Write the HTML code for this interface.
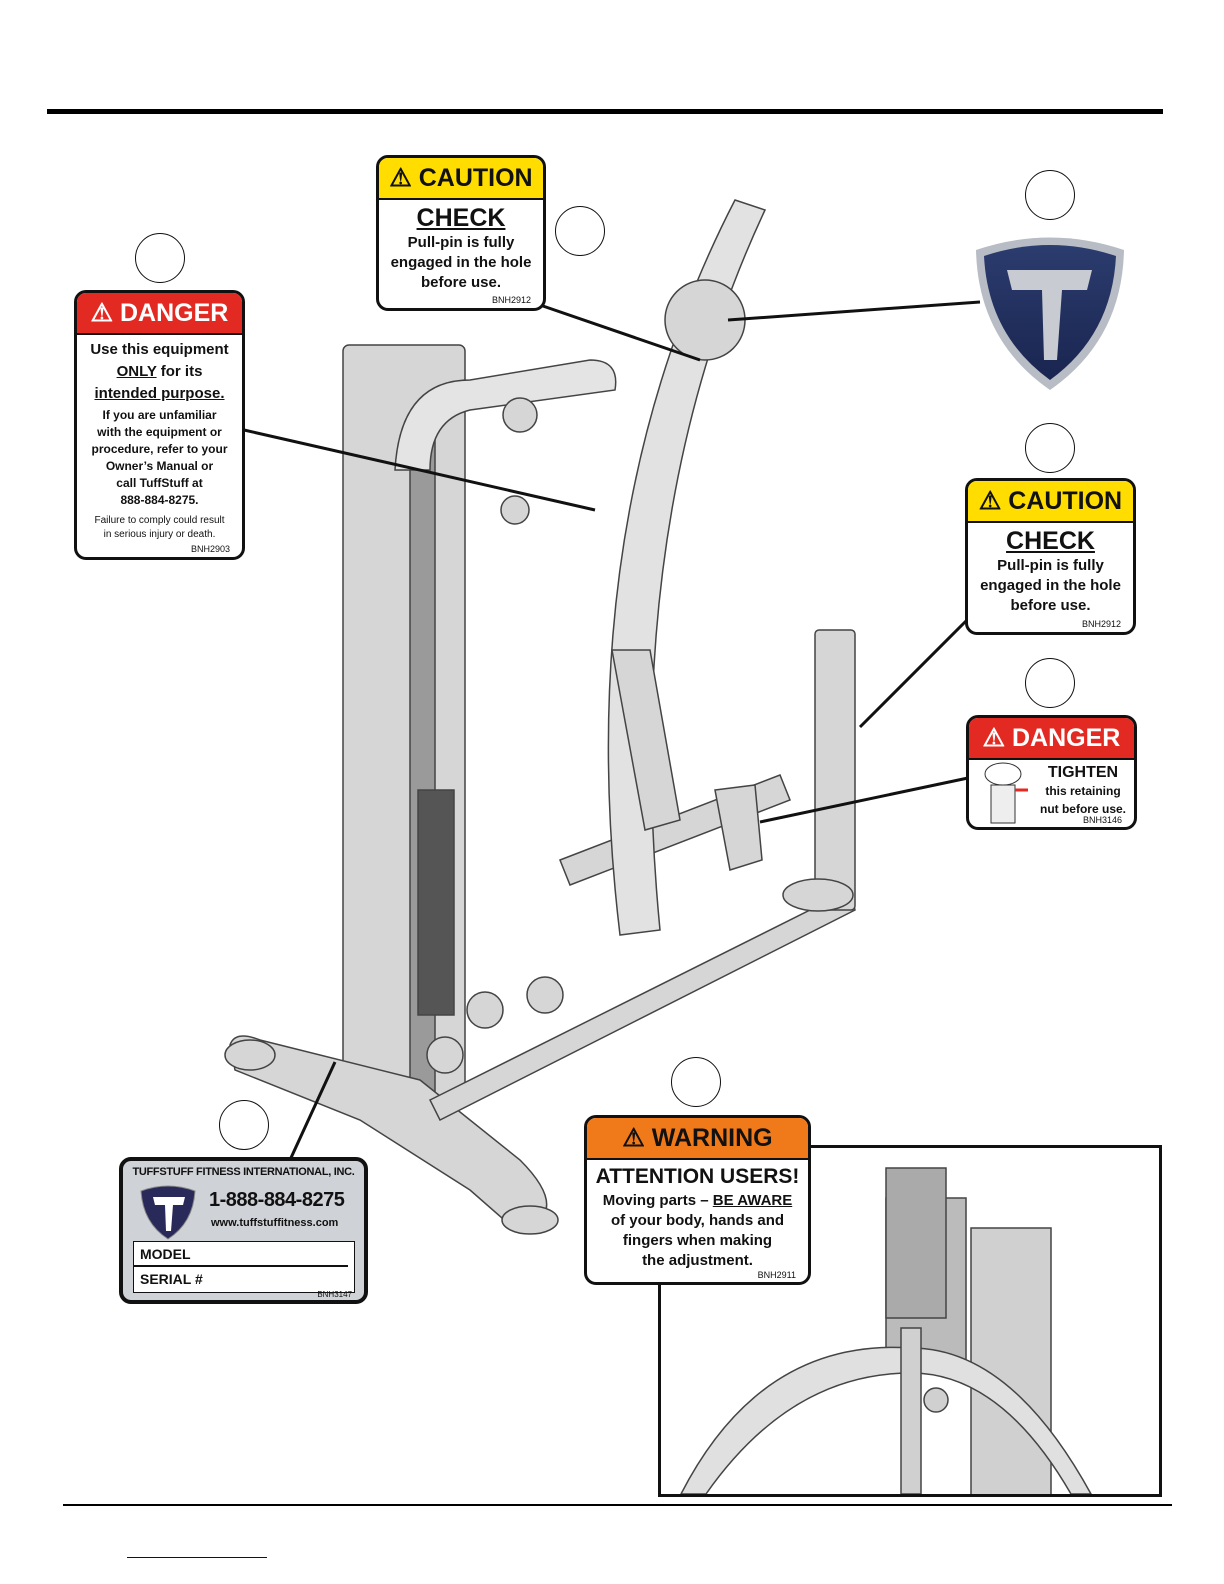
<!DOCTYPE html>
<html><head><meta charset="utf-8">
<style>
body{margin:0;background:#fff;}
#p{position:relative;width:1224px;height:1584px;overflow:hidden;font-family:"Liberation Sans",sans-serif;}
.ab{position:absolute;}
.lbl{position:absolute;border:3px solid #111;border-radius:12px;background:#fff;overflow:hidden;box-sizing:border-box;text-align:center;color:#111;}
.hd{font-weight:bold;font-size:25px;line-height:40px;border-bottom:2px solid #111;white-space:nowrap;}
.circ{position:absolute;width:50px;height:50px;border:1.5px solid #111;border-radius:50%;background:#fff;box-sizing:border-box;}
.b{font-weight:bold;}
.sm{font-size:9px;position:absolute;right:12px;}
.nw{white-space:nowrap;}
</style></head><body><div id="p">
<div class="ab" style="left:47px;top:109px;width:1116px;height:5px;background:#000"></div>
<div class="ab" style="left:63px;top:1504px;width:1109px;height:2px;background:#000"></div>
<div class="ab" style="left:127px;top:1557px;width:140px;height:1px;background:#00a"></div>

<svg class="ab" style="left:0;top:0" width="1224" height="1584">
<g fill="#d6d6d6" stroke="#444" stroke-width="1.5">
<rect x="343" y="345" width="122" height="760" rx="6"/>
<rect x="410" y="420" width="25" height="690" fill="#9a9a9a"/>
<rect x="418" y="790" width="36" height="225" fill="#555"/>
<path d="M230 1045 Q235 1030 260 1040 L420 1080 L520 1160 Q560 1200 540 1220 L510 1225 L470 1190 L360 1120 Q260 1080 235 1070 Z"/>
<ellipse cx="250" cy="1055" rx="25" ry="15"/>
<ellipse cx="530" cy="1220" rx="28" ry="14"/>
<path d="M430 1100 L850 890 L855 910 L440 1120 Z"/>
<path d="M560 860 L780 775 L790 800 L570 885 Z"/>
<path d="M735 200 L765 210 Q620 520 660 930 L620 935 Q570 520 735 200 Z" fill="#e2e2e2"/>
<path d="M395 470 Q400 380 470 380 L590 360 Q620 360 615 390 L470 410 Q430 420 430 470 Z" fill="#e4e4e4"/>
<circle cx="705" cy="320" r="40"/>
<rect x="815" y="630" width="40" height="280" rx="4"/>
<ellipse cx="818" cy="895" rx="35" ry="16"/>
<path d="M612 650 L650 650 L680 820 L645 830 Z"/>
<path d="M715 790 L755 785 L762 860 L730 870 Z"/>
<circle cx="485" cy="1010" r="18"/><circle cx="545" cy="995" r="18"/><circle cx="445" cy="1055" r="18"/><circle cx="520" cy="415" r="17"/><circle cx="515" cy="510" r="14"/>
</g>
<g stroke="#111" stroke-width="3" fill="none">
<line x1="244" y1="430" x2="595" y2="510"/>
<line x1="540" y1="305" x2="700" y2="360"/>
<line x1="980" y1="302" x2="728" y2="320"/>
<line x1="967" y1="620" x2="860" y2="727"/>
<line x1="968" y1="778" x2="760" y2="822"/>
<line x1="290" y1="1160" x2="335" y2="1062"/>
<line x1="805" y1="1280" x2="880" y2="1350"/>
</g>
</svg>

<div class="ab" style="left:658px;top:1145px;width:498px;height:346px;border:3px solid #111;overflow:hidden;background:#fff">
<svg width="498" height="346"><g fill="#d0d0d0" stroke="#444" stroke-width="1.5">
<rect x="310" y="80" width="80" height="270"/>
<rect x="225" y="50" width="80" height="170" fill="#bbb"/>
<path d="M20 346 Q100 190 250 200 Q350 200 430 346 L410 346 Q340 225 250 225 Q130 225 45 346 Z" fill="#e0e0e0"/>
<rect x="240" y="180" width="20" height="166"/>
<rect x="225" y="20" width="60" height="150" fill="#aaa"/>
<circle cx="275" cy="252" r="12"/>
</g></svg></div>

<div class="circ" style="left:135px;top:233px"></div>
<div class="circ" style="left:555px;top:206px"></div>
<div class="circ" style="left:1025px;top:170px"></div>
<div class="circ" style="left:1025px;top:423px"></div>
<div class="circ" style="left:1025px;top:658px"></div>
<div class="circ" style="left:219px;top:1100px"></div>
<div class="circ" style="left:671px;top:1057px"></div>

<div class="lbl" style="left:376px;top:155px;width:170px;height:156px">
<div class="hd" style="background:#ffdd00">⚠ CAUTION</div>
<div class="b" style="font-size:25px;margin-top:4px;text-decoration:underline">CHECK</div>
<div class="b nw" style="font-size:15px;line-height:20px">Pull-pin is fully<br>engaged in the hole<br>before use.</div>
<div class="sm" style="bottom:3px">BNH2912</div></div>

<div class="lbl" style="left:74px;top:290px;width:171px;height:270px">
<div class="hd" style="background:#e32a22;color:#fff">⚠ DANGER</div>
<div class="b nw" style="font-size:15px;line-height:22px;margin-top:4px">Use this equipment<br><u>ONLY</u> for its<br><u>intended purpose.</u></div>
<div class="b nw" style="font-size:12px;line-height:17px;margin-top:2px">If you are unfamiliar<br>with the equipment or<br>procedure, refer to your<br>Owner’s Manual or<br>call TuffStuff at<br>888-884-8275.</div>
<div class="nw" style="font-size:10px;line-height:14px;margin-top:5px">Failure to comply could result<br>in serious injury or death.</div>
<div class="sm" style="bottom:3px">BNH2903</div></div>

<svg class="ab" style="left:972px;top:230px" width="156" height="162">
<defs><linearGradient id="g" x1="0" y1="0" x2="0" y2="1"><stop offset="0" stop-color="#2b3c6e"/><stop offset="1" stop-color="#1a2550"/></linearGradient></defs>
<path d="M4 20 Q78 -5 152 20 Q150 110 78 160 Q6 110 4 20 Z" fill="#b8bcc4"/>
<path d="M12 26 Q78 4 144 26 Q140 105 78 150 Q16 105 12 26 Z" fill="url(#g)"/>
<path d="M35 40 L120 40 L115 60 L90 60 L85 130 L72 130 L70 60 L40 60 Z" fill="#c8ccd2"/>
</svg>

<div class="lbl" style="left:965px;top:478px;width:171px;height:157px">
<div class="hd" style="background:#ffdd00">⚠ CAUTION</div>
<div class="b" style="font-size:25px;margin-top:4px;text-decoration:underline">CHECK</div>
<div class="b nw" style="font-size:15px;line-height:20px">Pull-pin is fully<br>engaged in the hole<br>before use.</div>
<div class="sm" style="bottom:3px">BNH2912</div></div>

<div class="lbl" style="left:966px;top:715px;width:171px;height:115px">
<div class="hd" style="background:#e32a22;color:#fff">⚠ DANGER</div>
<svg class="ab" style="left:14px;top:42px" width="45" height="70"><ellipse cx="20" cy="14" rx="18" ry="11" fill="#fff" stroke="#333"/><rect x="8" y="25" width="24" height="38" fill="#eee" stroke="#333"/><path d="M32 30 L45 30" stroke="#e32a22" stroke-width="3"/></svg>
<div class="b ab nw" style="left:60px;top:46px;width:108px;font-size:16px;line-height:18px">TIGHTEN<br><span style="font-size:12px;line-height:16px">this retaining<br>nut before use.</span></div>
<div class="sm" style="bottom:2px">BNH3146</div></div>

<div class="lbl" style="left:119px;top:1157px;width:249px;height:147px;background:#cfd2d6;border-width:4px">
<div class="b nw" style="font-size:11px;margin-top:5px;letter-spacing:-0.3px">TUFFSTUFF FITNESS INTERNATIONAL, INC.</div>
<svg class="ab" style="left:16px;top:22px" width="58" height="58"><path d="M2 8 Q29 -2 56 8 Q54 40 29 56 Q4 40 2 8Z" fill="#2a2a5a" stroke="#888"/><path d="M14 14 L46 14 L44 22 L34 22 L32 48 L27 48 L26 22 L16 22Z" fill="#fff"/></svg>
<div class="b ab nw" style="left:86px;top:28px;font-size:20px;letter-spacing:-0.5px">1-888-884-8275</div>
<div class="b ab nw" style="left:88px;top:56px;font-size:11px">www.tuffstuffitness.com</div>
<div class="ab" style="left:10px;top:80px;width:220px;height:50px;background:#fff;border:1px solid #111;text-align:left">
<div class="b" style="font-size:14px;padding:4px 6px 3px;border-bottom:2px solid #111;margin-right:6px">MODEL</div>
<div class="b" style="font-size:14px;padding:4px 6px">SERIAL #</div></div>
<div class="sm" style="bottom:1px;font-size:8px">BNH3147</div></div>

<div class="lbl" style="left:584px;top:1115px;width:227px;height:170px">
<div class="hd" style="background:#f07a1a">⚠ WARNING</div>
<div class="b nw" style="font-size:21px;margin-top:5px">ATTENTION USERS!</div>
<div class="b nw" style="font-size:15px;line-height:20px;margin-top:2px">Moving parts – <u>BE AWARE</u><br>of your body, hands and<br>fingers when making<br>the adjustment.</div>
<div class="sm" style="bottom:2px">BNH2911</div></div>
</div></body></html>
